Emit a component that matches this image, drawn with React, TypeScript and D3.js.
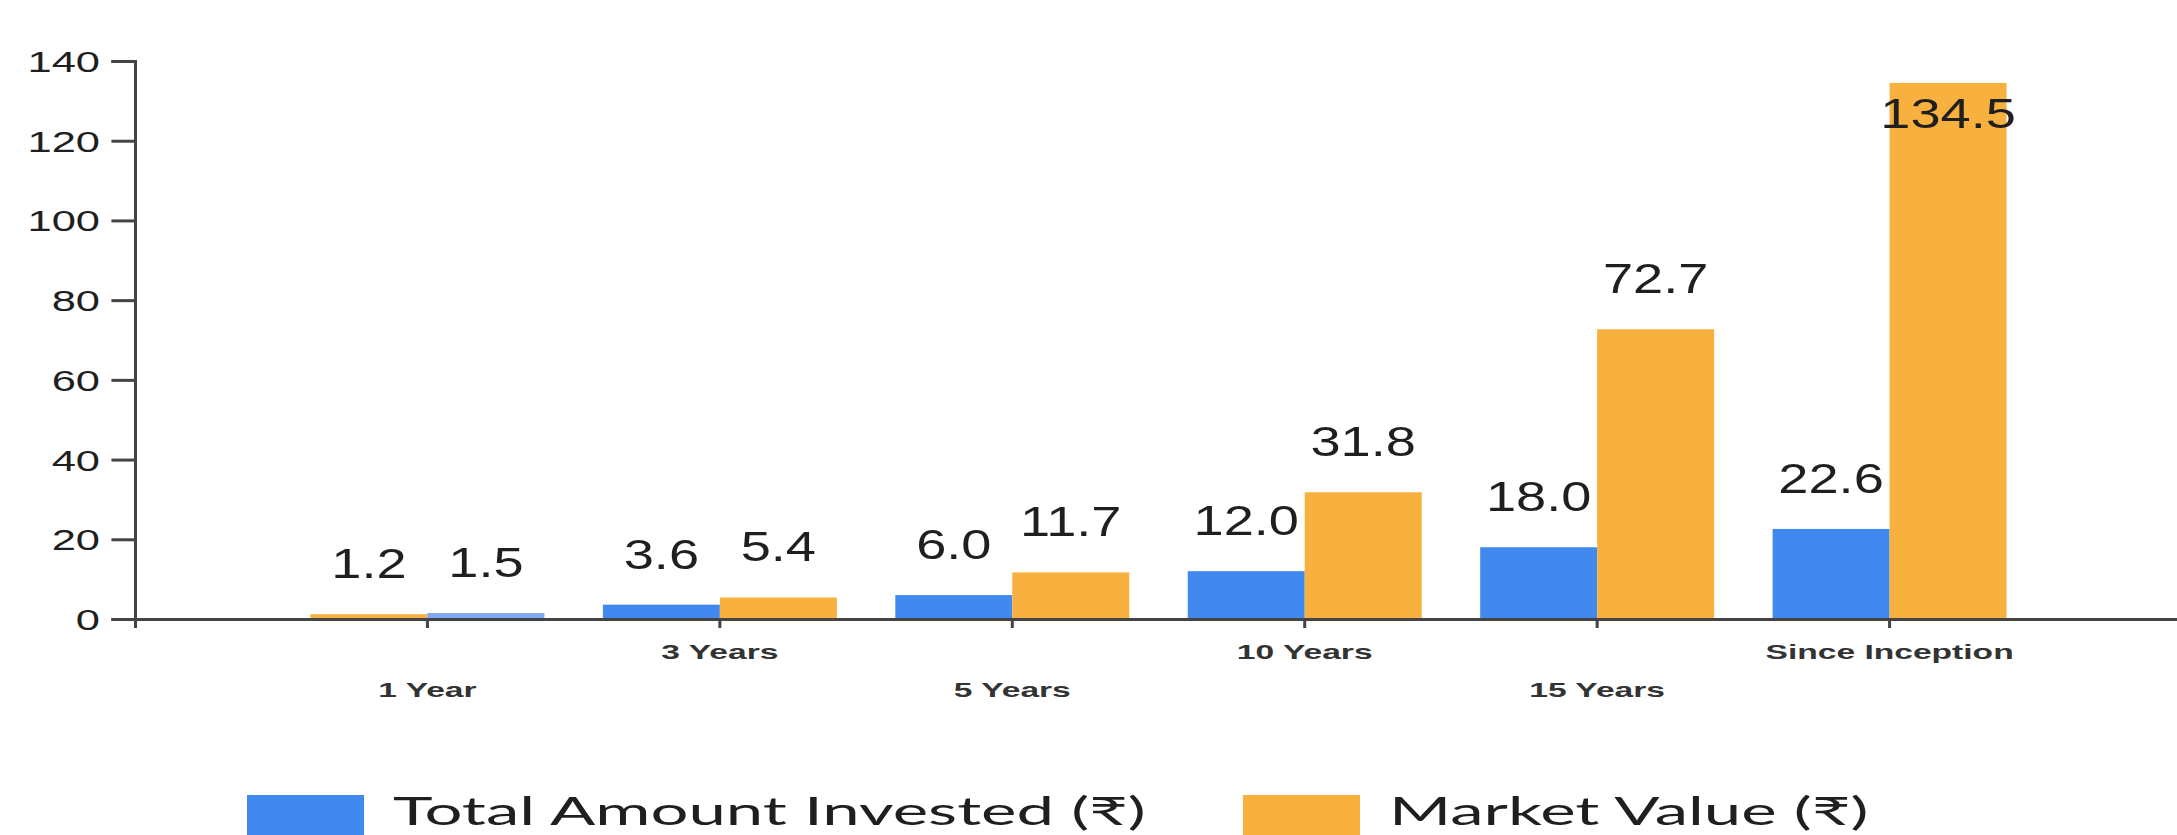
import React, { useEffect, useRef } from "react";
import * as d3 from "d3";

const categories = ["1 Year", "3 Years", "5 Years", "10 Years", "15 Years", "Since Inception"];
const investedValues = [1.2, 3.6, 6.0, 12.0, 18.0, 22.6];
const marketValues = [1.5, 5.4, 11.7, 31.8, 72.7, 134.5];
const seriesNames = ["Total Amount Invested (₹)", "Market Value (₹)"];
const yTickValues = [0, 20, 40, 60, 80, 100, 120, 140];

const W = 2177;
const H = 835;
const LEFT = 135;
const AXIS_Y = 619;
const TOP = 61;
const RIGHT = 2182;

const BLUE = "#4189EE";
const ORANGE = "#F8B03E";
const LIGHT_BLUE = "#7EAAF3";
const TEXT = "#1f1f1f";

const TICK_SX = 1.5;
const CAT_SX = 1.6;
const VAL_SX = 1.26;
const LEG_SX = 1.72;

export default function App() {
  const xAxisRef = useRef<SVGGElement>(null);
  const yAxisRef = useRef<SVGGElement>(null);

  const x = d3.scaleBand<string>().domain(categories).range([LEFT, RIGHT]).paddingInner(0.2).paddingOuter(0.6);
  const y = d3.scaleLinear().domain([0, 140]).range([AXIS_Y, TOP]);
  const seriesKeys = ["invested", "market"];
  const x1 = d3.scaleBand<string>().domain(seriesKeys).range([0, x.bandwidth()]).padding(0);
  const color = d3.scaleOrdinal<string, string>().domain(seriesKeys).range([BLUE, ORANGE]);

  const fillFor = (key: string, ci: number) => {
    // first group is drawn with swapped colours in the reference
    if (ci === 0) return key === "invested" ? ORANGE : LIGHT_BLUE;
    return color(key);
  };

  useEffect(() => {
    const yAxis = d3.axisLeft(y).tickValues(yTickValues).tickSize(23.6).tickPadding(11);
    const gy = d3.select(yAxisRef.current!);
    gy.call(yAxis as any);
    gy.select(".domain").attr("stroke", "#444").attr("stroke-width", 3);
    gy.selectAll(".tick line").attr("stroke", "#444").attr("stroke-width", 3);
    gy.selectAll<SVGTextElement, number>(".tick text")
      .attr("x", null)
      .attr("dy", "0.36em")
      .attr("transform", `translate(-35,0) scale(${TICK_SX},1)`)
      .attr("fill", TEXT)
      .style("font-family", "'Liberation Sans', Arial, sans-serif")
      .style("font-size", "29px");

    const xAxis = d3.axisBottom(x).tickSize(9).tickSizeOuter(9);
    const gx = d3.select(xAxisRef.current!);
    gx.call(xAxis as any);
    gx.select(".domain").attr("stroke", "#444").attr("stroke-width", 3);
    gx.selectAll(".tick line").attr("stroke", "#444").attr("stroke-width", 3);
    gx.selectAll<SVGTextElement, string>(".tick text")
      .attr("y", null)
      .attr("dy", null)
      .attr("transform", (_d, i) => `translate(0,${i % 2 === 0 ? 78 : 40}) scale(${CAT_SX},1)`)
      .attr("fill", "#333")
      .style("font-family", "'Liberation Sans', Arial, sans-serif")
      .style("font-size", "21px")
      .style("font-weight", "600");
  }, []);

  const rows = categories.map((c, i) => ({ cat: c, ci: i, invested: investedValues[i], market: marketValues[i] }));
  const fmt = d3.format(".1f");

  const labelY = (v: number) => {
    const top = y(v);
    const above = top - 36;
    return above - 32 < TOP ? top + 45 : above;
  };

  return (
    <svg
      width={W}
      height={H}
      viewBox={`0 0 ${W} ${H}`}
      style={{ position: "absolute", left: 0, top: 0, background: "#fff" }}
    >
      <rect x={0} y={0} width={W} height={H} fill="#fff" />
      <g>
        {rows.map((r) => (
          <g key={r.cat} transform={`translate(${x(r.cat)},0)`}>
            {seriesKeys.map((k) => {
              const v = (r as any)[k] as number;
              return (
                <rect
                  key={k}
                  x={x1(k)}
                  y={y(v)}
                  width={x1.bandwidth()}
                  height={y(0) - y(v)}
                  fill={fillFor(k, r.ci)}
                />
              );
            })}
          </g>
        ))}
      </g>
      <g ref={xAxisRef} transform={`translate(0,${AXIS_Y})`} />
      <g ref={yAxisRef} transform={`translate(${LEFT},0)`} />
      <g>
        {rows.map((r) =>
          seriesKeys.map((k) => {
            const v = (r as any)[k] as number;
            const cx = (x(r.cat) as number) + (x1(k) as number) + x1.bandwidth() / 2;
            return (
              <text
                key={r.cat + k}
                transform={`translate(${cx},${labelY(v)}) scale(${VAL_SX},1)`}
                textAnchor="middle"
                fill={TEXT}
                style={{ fontFamily: "'Liberation Sans', Arial, sans-serif", fontSize: 43 }}
              >
                {fmt(v)}
              </text>
            );
          })
        )}
      </g>
      <g>
        {seriesKeys.map((k, i) => {
          const sx = i === 0 ? 247 : 1243;
          return (
            <g key={k}>
              <rect x={sx} y={795} width={117} height={50} fill={color(k)} />
              <text
                transform={`translate(${sx + 146},825) scale(${LEG_SX},1)`}
                fill={TEXT}
                style={{ fontFamily: "Lato, 'Noto Sans', sans-serif", fontSize: 39 }}
              >
                {seriesNames[i]}
              </text>
            </g>
          );
        })}
      </g>
    </svg>
  );
}
